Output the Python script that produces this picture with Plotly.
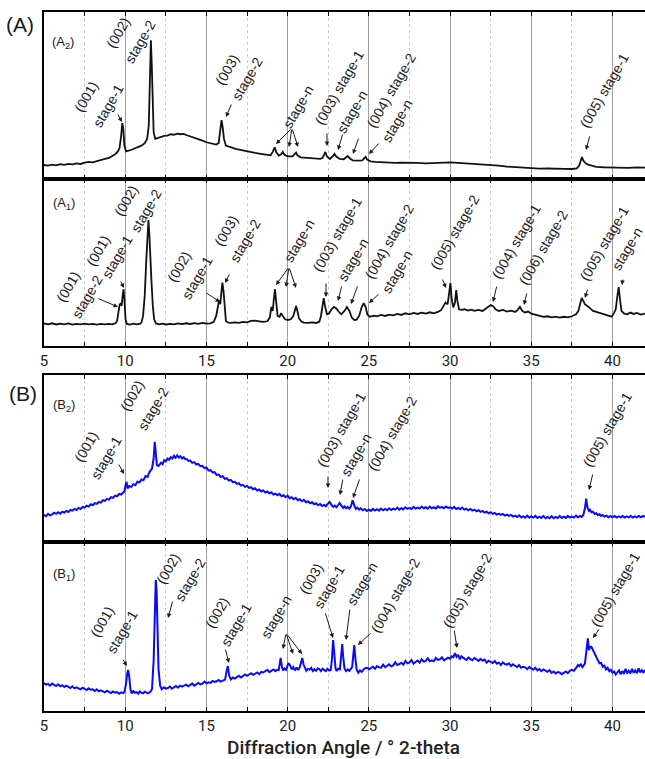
import plotly.graph_objects as go

# ---------------- data (2-theta in degrees, intensity in panel units 0-100) ----------------
A2_pts = [
(5.0,8.4),(5.25,8.0),(5.5,8.6),(5.75,8.2),(6.0,8.9),(6.25,8.5),(6.5,9.1),(6.75,8.8),(7.0,9.4),(7.25,9.0),
(7.5,9.8),(7.75,10.2),(8.0,10.0),(8.25,10.8),(8.5,11.2),(8.75,12.0),(9.0,12.6),(9.2,13.8),(9.4,15.0),(9.55,16.5),
(9.65,18.5),(9.75,26),(9.82,33.5),(9.88,30),(9.95,20),(10.05,16.5),(10.2,16.8),(10.4,17.5),(10.6,18.4),(10.8,19.0),
(11.0,20.0),(11.2,21.5),(11.35,24),(11.45,32),(11.52,55),(11.58,83),(11.63,70),(11.68,45),(11.75,28),(11.85,24),
(12.0,24.5),(12.2,25.2),(12.4,25.8),(12.6,26.0),(12.8,26.8),(13.0,26.5),(13.2,27.2),(13.4,26.8),(13.6,27.0),(13.8,26.2),
(14.0,25.6),(14.2,25.0),(14.4,24.0),(14.6,23.4),(14.8,22.8),(15.0,22.0),(15.2,21.5),(15.4,21.0),(15.6,20.6),(15.75,21.5),
(15.85,28),(15.93,35.3),(16.0,31),(16.08,24),(16.2,20.0),(16.4,19.2),(16.6,18.8),(16.8,18.0),(17.0,17.6),(17.25,17.0),
(17.5,16.5),(17.75,16.0),(18.0,15.6),(18.25,15.2),(18.5,14.8),(18.75,14.4),(18.95,14.2),(19.1,16.5),(19.2,19.0),(19.3,16.0),
(19.45,14.0),(19.6,14.8),(19.7,16.2),(19.8,14.5),(20.0,13.6),(20.3,13.5),(20.45,15.2),(20.52,15.8),(20.6,14.2),(20.8,13.0),
(21.0,12.8),(21.25,12.6),(21.5,12.4),(21.75,12.2),(22.0,12.0),(22.15,12.5),(22.25,15.0),(22.32,16.2),(22.42,13.5),(22.6,12.0),
(22.8,13.8),(22.88,15.0),(22.98,13.6),(23.2,12.0),(23.45,11.8),(23.6,12.8),(23.7,13.8),(23.82,12.4),(24.0,11.2),(24.3,11.0),
(24.6,11.2),(24.72,12.5),(24.8,13.2),(24.9,11.6),(25.1,10.6),(25.4,10.2),(25.7,10.0),(26.0,9.8),(26.3,9.9),(26.6,9.6),
(27.0,9.8),(27.5,9.5),(28.0,9.6),(28.5,9.4),(29.0,9.6),(29.5,9.8),(30.0,10.0),(30.5,9.6),(31.0,9.3),(31.5,9.0),
(32.0,8.8),(32.5,8.4),(33.0,8.0),(33.5,7.4),(34.0,7.0),(34.5,6.8),(35.0,6.6),(35.5,6.2),(36.0,6.3),(36.5,6.0),
(37.0,6.1),(37.5,6.0),(37.8,6.4),(37.95,8.0),(38.05,12.0),(38.12,13.2),(38.2,11.0),(38.35,9.4),(38.5,8.6),(38.75,7.8),
(39.0,7.2),(39.5,7.0),(40.0,6.8),(40.5,6.9),(41.0,6.7),(41.5,7.0),(42.0,6.8),
]

A1_pts = [
(5.0,13.5),(5.25,13.0),(5.5,13.6),(5.75,12.9),(6.0,13.4),(6.25,13.0),(6.5,13.5),(6.75,12.8),(7.0,13.2),(7.25,12.9),
(7.5,13.4),(7.75,13.0),(8.0,13.3),(8.25,12.8),(8.5,13.2),(8.75,12.9),(9.0,13.3),(9.2,13.0),(9.4,13.6),(9.5,15),
(9.58,20),(9.65,24.5),(9.72,25.7),(9.78,24),(9.84,30),(9.9,34),(9.95,28),(10.02,16),(10.1,13.2),(10.3,12.8),
(10.5,13.4),(10.7,13.0),(10.9,13.2),(11.0,14.0),(11.1,18),(11.2,30),(11.3,52),(11.38,72),(11.43,75.4),(11.48,68),
(11.55,50),(11.62,38),(11.7,24),(11.78,16),(11.9,13.4),(12.1,13.0),(12.3,13.4),(12.5,12.9),(12.75,13.3),(13.0,13.0),
(13.25,13.5),(13.5,13.1),(13.75,13.6),(14.0,13.2),(14.25,13.7),(14.5,13.3),(14.75,13.8),(15.0,13.4),(15.25,13.6),(15.45,14.5),
(15.6,18),(15.72,25),(15.78,27.5),(15.85,25),(15.92,33),(15.98,38),(16.05,33),(16.12,22),(16.2,15),(16.35,14.0),
(16.5,13.8),(16.75,14.2),(17.0,13.9),(17.25,14.5),(17.5,14.2),(17.75,15.0),(18.0,15.2),(18.25,14.8),(18.5,14.4),(18.75,14.8),
(18.9,17),(19.0,23.4),(19.08,21),(19.15,28),(19.22,34),(19.3,26),(19.38,18),(19.5,17.5),(19.6,19.7),(19.7,18),
(19.85,16),(20.0,15.6),(20.2,16.0),(20.35,18),(20.45,22),(20.52,24),(20.6,21),(20.7,16.5),(20.85,14.6),(21.0,14.0),
(21.25,13.8),(21.5,14.2),(21.75,13.8),(21.95,14.5),(22.05,18),(22.15,26),(22.22,28.7),(22.3,24),(22.42,19),(22.55,19.5),
(22.7,22),(22.85,23.4),(23.0,22.5),(23.15,20.5),(23.3,19),(23.5,21),(23.65,23.4),(23.8,21),(23.95,17),(24.1,15.6),
(24.25,15.8),(24.4,18),(24.55,23),(24.68,25.7),(24.8,23.5),(24.9,19),(25.05,17.5),(25.3,18.2),(25.5,17.8),(25.75,18.6),
(26.0,18.0),(26.25,18.8),(26.5,18.3),(26.75,19.2),(27.0,18.6),(27.25,19.6),(27.5,19.0),(27.75,19.8),(28.0,19.2),(28.25,20.0),
(28.5,19.4),(28.75,20.2),(29.0,19.6),(29.25,20.4),(29.45,21.5),(29.6,24),(29.72,26),(29.85,25),(29.95,32),(30.02,37.7),
(30.1,28),(30.2,23),(30.3,26),(30.38,33.5),(30.45,27),(30.55,22),(30.7,21.6),(30.9,22.0),(31.1,21.2),(31.3,21.8),
(31.5,21.0),(31.75,21.6),(32.0,21.0),(32.2,22.2),(32.35,23.5),(32.5,24.5),(32.65,23.8),(32.8,22.0),(33.0,21.0),(33.25,21.6),
(33.5,20.6),(33.75,21.2),(34.0,20.4),(34.15,21.5),(34.3,23.4),(34.45,21),(34.6,20.0),(34.8,20.6),(35.0,19.4),(35.25,18.6),
(35.5,18.0),(35.75,17.4),(36.0,17.8),(36.25,17.2),(36.5,17.6),(36.75,17.0),(37.0,17.5),(37.25,17.2),(37.5,17.8),(37.75,19.0),
(37.9,21),(38.0,26),(38.1,28.7),(38.2,27),(38.3,25),(38.45,24),(38.6,22.5),(38.8,21),(39.0,20.4),(39.25,19.6),
(39.5,18.8),(39.75,18.0),(39.95,17.6),(40.1,20),(40.2,22),(40.3,30),(40.38,35.3),(40.46,28),(40.55,21),(40.7,19.5),
(40.9,19.0),(41.1,20.0),(41.3,19.2),(41.5,19.8),(41.75,18.8),(42.0,19.4),
]

B2_pts = [
(5.0,16.2),(5.125,15.4),(5.25,16.8),(5.375,16.0),(5.5,16.6),(5.625,17.6),(5.75,16.9),(5.875,17.8),(6.0,17.0),(6.125,18.2),
(6.25,17.6),(6.375,18.6),(6.5,18.0),(6.625,19.2),(6.75,18.8),(6.875,19.8),(7.0,19.2),(7.125,20.4),(7.25,19.8),(7.375,21.0),
(7.5,20.6),(7.625,21.8),(7.75,21.2),(7.875,22.6),(8.0,22.0),(8.125,23.2),(8.25,22.8),(8.375,24.0),(8.5,23.6),(8.625,25.0),
(8.75,24.6),(8.875,25.8),(9.0,25.4),(9.125,26.8),(9.25,26.4),(9.375,27.8),(9.5,27.4),(9.625,28.8),(9.75,28.4),(9.875,29.8),
(9.95,30.2),(10.02,34),(10.08,36),(10.15,32),(10.25,33.5),(10.375,33.0),(10.5,34.6),(10.625,34.0),(10.75,36.2),(10.875,35.6),
(11.0,37.5),(11.125,37.0),(11.25,39.5),(11.375,39.0),(11.5,42.0),(11.65,44),(11.75,50),(11.82,60),(11.88,54),(11.95,46),
(12.05,45.5),(12.125,46.8),(12.2,47.5),(12.3,46.6),(12.4,49.0),(12.5,48.2),(12.6,50.0),(12.7,49.2),(12.8,50.8),(12.9,50.0),
(13.0,51.6),(13.1,50.4),(13.2,51.8),(13.3,50.6),(13.4,51.4),(13.5,50.0),(13.6,50.8),(13.7,49.6),(13.8,49.6),(13.9,48.6),
(14.0,48.8),(14.125,47.4),(14.25,47.8),(14.375,46.4),(14.5,46.8),(14.625,45.4),(14.75,45.6),(14.875,44.2),(15.0,44.6),(15.125,42.8),
(15.25,43.0),(15.375,41.6),(15.5,41.8),(15.625,40.2),(15.75,40.4),(15.875,39.0),(16.0,39.4),(16.125,37.8),(16.25,38.2),(16.375,36.8),
(16.5,37.2),(16.625,35.8),(16.75,36.0),(16.875,34.8),(17.0,35.2),(17.125,33.8),(17.25,34.2),(17.375,33.0),(17.5,33.6),(17.625,32.4),
(17.75,32.8),(17.875,31.6),(18.0,32.2),(18.125,30.8),(18.25,31.4),(18.375,30.2),(18.5,31.0),(18.625,29.6),(18.75,30.2),(18.875,29.0),
(19.0,29.8),(19.125,28.4),(19.25,29.0),(19.375,28.0),(19.5,28.8),(19.625,27.4),(19.75,28.0),(19.875,26.8),(20.0,27.8),(20.125,26.2),
(20.25,26.8),(20.375,25.6),(20.5,26.4),(20.625,25.0),(20.75,25.6),(20.875,24.4),(21.0,25.2),(21.125,23.8),(21.25,24.4),(21.375,23.2),
(21.5,23.8),(21.625,22.6),(21.75,23.2),(21.875,22.0),(22.0,22.8),(22.125,21.6),(22.25,22.2),(22.35,21.4),(22.45,22.4),(22.58,24.0),
(22.7,22.2),(22.8,21.0),(22.9,21.8),(23.0,20.8),(23.1,22.0),(23.2,23.4),(23.32,21.6),(23.42,20.4),(23.5,21.4),(23.6,20.2),
(23.7,21.0),(23.8,20.0),(23.9,21.4),(24.0,25.0),(24.1,22.0),(24.2,19.8),(24.3,20.6),(24.4,19.4),(24.5,20.2),(24.625,19.0),
(24.75,19.8),(24.875,18.6),(25.0,19.4),(25.125,18.6),(25.25,19.8),(25.375,18.8),(25.5,19.6),(25.625,18.8),(25.75,20.0),(25.875,19.0),
(26.0,19.8),(26.125,19.0),(26.25,20.2),(26.375,19.2),(26.5,20.0),(26.625,19.4),(26.75,20.6),(26.875,19.4),(27.0,20.2),(27.125,19.6),
(27.25,20.8),(27.375,19.8),(27.5,20.4),(27.625,19.8),(27.75,21.0),(27.875,20.0),(28.0,20.6),(28.125,20.0),(28.25,21.2),(28.375,20.2),
(28.5,20.8),(28.625,20.0),(28.75,21.2),(28.875,20.2),(29.0,20.8),(29.125,20.0),(29.25,21.4),(29.375,20.4),(29.5,21.0),(29.625,20.2),
(29.75,21.2),(29.875,20.4),(30.0,20.8),(30.125,20.0),(30.25,21.0),(30.375,19.8),(30.5,20.4),(30.625,19.6),(30.75,20.6),(30.875,19.4),
(31.0,20.0),(31.125,19.0),(31.25,19.8),(31.375,18.8),(31.5,19.4),(31.625,18.4),(31.75,19.0),(31.875,18.0),(32.0,18.6),(32.125,17.6),
(32.25,18.2),(32.375,17.2),(32.5,17.8),(32.625,16.8),(32.75,17.4),(32.875,16.4),(33.0,17.0),(33.125,16.2),(33.25,16.8),(33.375,15.8),
(33.5,16.4),(33.625,15.6),(33.75,16.2),(33.875,15.2),(34.0,15.8),(34.125,15.0),(34.25,16.0),(34.375,14.8),(34.5,15.4),(34.625,14.6),
(34.75,15.8),(34.875,14.6),(35.0,15.4),(35.125,14.6),(35.25,15.6),(35.375,14.4),(35.5,15.2),(35.625,14.4),(35.75,15.6),(35.875,14.2),
(36.0,15.0),(36.125,14.2),(36.25,15.4),(36.375,14.2),(36.5,15.0),(36.625,14.4),(36.75,15.6),(36.875,14.4),(37.0,15.2),(37.125,14.4),
(37.25,15.6),(37.375,14.6),(37.5,15.2),(37.625,14.6),(37.75,15.8),(37.875,14.8),(38.0,15.6),(38.1,15.0),(38.2,16.0),(38.3,20),
(38.38,26),(38.45,21),(38.55,18.6),(38.62,19.2),(38.7,17.8),(38.8,18.2),(38.9,16.8),(39.0,17.2),(39.1,16.2),(39.2,16.6),
(39.3,15.6),(39.4,16.2),(39.5,15.2),(39.625,15.8),(39.75,14.8),(39.875,15.6),(40.0,14.8),(40.125,15.6),(40.25,14.6),(40.375,15.4),
(40.5,14.8),(40.625,15.6),(40.75,14.6),(40.875,15.4),(41.0,14.8),(41.125,15.6),(41.25,14.6),(41.375,15.4),(41.5,14.8),(41.625,15.6),
(41.75,14.8),(41.875,15.6),(42.0,15.0),
]

B1_pts = [
(5.0,16.6),(5.125,15.6),(5.25,16.0),(5.375,15.0),(5.5,16.2),(5.625,15.4),(5.75,14.8),(5.875,15.8),(6.0,14.6),(6.125,15.2),
(6.25,14.2),(6.375,15.0),(6.5,14.4),(6.625,13.6),(6.75,14.6),(6.875,13.4),(7.0,14.0),(7.125,13.6),(7.25,12.8),(7.375,13.8),
(7.5,13.0),(7.625,12.4),(7.75,13.4),(7.875,12.6),(8.0,12.8),(8.125,11.8),(8.25,12.8),(8.375,11.6),(8.5,12.2),(8.625,11.8),
(8.75,11.0),(8.875,12.0),(9.0,11.4),(9.125,10.6),(9.25,11.6),(9.375,10.8),(9.5,11.2),(9.625,10.2),(9.75,11.0),(9.875,10.6),
(9.95,11.2),(10.05,16),(10.12,22),(10.18,24.3),(10.25,20),(10.32,13),(10.4,10.4),(10.5,11.8),(10.6,10.8),(10.7,11.2),
(10.8,10.2),(10.9,11.6),(11.0,10.8),(11.1,10.4),(11.2,11.4),(11.3,11.0),(11.4,10.4),(11.55,11.4),(11.65,13),(11.75,30),
(11.82,60),(11.88,77.5),(11.93,72),(11.98,50),(12.05,25),(12.15,15),(12.25,12.8),(12.375,14.0),(12.5,13.2),(12.625,13.6),
(12.75,14.4),(12.875,13.2),(13.0,14.2),(13.125,14.8),(13.25,13.8),(13.375,15.0),(13.5,14.4),(13.625,14.8),(13.75,15.6),(13.875,14.6),
(14.0,15.2),(14.125,16.2),(14.25,15.0),(14.375,15.8),(14.5,16.6),(14.625,15.8),(14.75,16.2),(14.875,17.4),(15.0,16.4),(15.125,17.0),
(15.25,16.6),(15.375,17.8),(15.5,17.2),(15.625,17.6),(15.75,18.4),(15.875,17.4),(16.0,18.0),(16.15,18.6),(16.25,24),(16.32,26.6),
(16.4,21),(16.5,18.6),(16.625,19.8),(16.75,19.2),(16.875,20.0),(17.0,20.8),(17.125,19.8),(17.25,20.6),(17.375,21.6),(17.5,20.8),
(17.625,21.4),(17.75,22.4),(17.875,21.4),(18.0,22.2),(18.125,22.8),(18.25,21.8),(18.375,23.2),(18.5,22.8),(18.625,23.6),(18.75,24.4),
(18.875,23.0),(19.0,23.8),(19.125,24.6),(19.25,23.6),(19.35,24.4),(19.45,24.2),(19.52,29),(19.57,31.4),(19.65,26),(19.72,24.0),
(19.8,25.2),(19.9,24.4),(19.98,26.5),(20.05,28.4),(20.15,27),(20.25,24.6),(20.35,26.0),(20.45,24.0),(20.55,25.8),(20.65,24.2),
(20.75,26.0),(20.82,28),(20.9,31.4),(20.98,27.5),(21.05,25.4),(21.15,23.8),(21.25,25.0),(21.35,24.4),(21.45,25.6),(21.55,23.6),
(21.65,24.6),(21.75,23.8),(21.85,25.2),(21.95,24.8),(22.05,23.6),(22.15,25.0),(22.25,24.2),(22.35,23.6),(22.45,25.0),(22.55,24.0),
(22.65,24.2),(22.72,30),(22.8,42),(22.86,35),(22.95,25),(23.02,23.6),(23.1,25.0),(23.22,24.6),(23.3,36),(23.36,39.6),
(23.42,32),(23.5,25.2),(23.6,23.6),(23.7,24.6),(23.8,23.8),(23.9,24.8),(23.97,26),(24.03,32),(24.1,39),(24.17,31),
(24.25,24.4),(24.35,22.6),(24.45,24.0),(24.55,23.2),(24.65,24.4),(24.75,25.2),(24.875,25.6),(25.0,24.8),(25.125,25.4),(25.25,26.2),
(25.375,25.0),(25.5,26.6),(25.625,25.8),(25.75,25.6),(25.875,27.4),(26.0,26.0),(26.125,26.8),(26.25,27.6),(26.375,26.4),(26.5,27.0),
(26.625,28.8),(26.75,27.2),(26.875,27.8),(27.0,28.6),(27.125,27.4),(27.25,29.6),(27.375,28.2),(27.5,28.8),(27.625,30.2),(27.75,28.0),
(27.875,29.0),(28.0,29.8),(28.125,28.6),(28.25,30.6),(28.375,29.2),(28.5,29.6),(28.625,31.2),(28.75,29.4),(28.875,30.0),(29.0,29.4),
(29.125,31.4),(29.25,30.2),(29.375,30.6),(29.5,31.8),(29.625,30.0),(29.75,30.8),(29.875,31.6),(30.0,31.0),(30.1,32.4),(30.2,31.8),
(30.3,34.3),(30.4,32.0),(30.5,33.2),(30.6,30.6),(30.7,32.4),(30.8,31.6),(30.9,30.8),(31.0,30.2),(31.125,31.6),(31.25,31.0),
(31.375,30.0),(31.5,31.4),(31.625,30.6),(31.75,29.6),(31.875,30.8),(32.0,29.8),(32.125,30.4),(32.25,28.6),(32.375,29.8),(32.5,29.0),
(32.625,28.4),(32.75,29.6),(32.875,28.0),(33.0,28.6),(33.125,27.2),(33.25,28.8),(33.375,27.8),(33.5,27.4),(33.625,28.2),(33.75,26.6),
(33.875,27.6),(34.0,26.8),(34.125,26.0),(34.25,27.2),(34.375,25.6),(34.5,26.2),(34.625,25.8),(34.75,24.8),(34.875,26.0),(35.0,25.2),
(35.125,24.4),(35.25,25.6),(35.375,24.0),(35.5,24.8),(35.625,23.6),(35.75,24.6),(35.875,23.8),(36.0,23.2),(36.125,24.2),(36.25,22.6),
(36.375,23.4),(36.5,22.2),(36.625,23.0),(36.75,22.8),(36.875,21.8),(37.0,22.6),(37.125,23.4),(37.25,22.4),(37.375,23.8),(37.5,24.4),
(37.625,23.8),(37.75,25.4),(37.875,27.2),(37.95,26.6),(38.05,27.6),(38.15,26.0),(38.3,28),(38.4,36),(38.48,43),(38.55,36),
(38.62,38),(38.7,38),(38.8,36),(38.9,34),(39.0,31),(39.1,30.0),(39.2,28.2),(39.3,28.4),(39.4,26.2),(39.5,26.8),
(39.6,24.6),(39.7,25.6),(39.8,23.6),(39.9,24.4),(40.0,22.6),(40.1,23.4),(40.2,21.6),(40.3,23.0),(40.4,24.0),(40.5,21.8),
(40.6,23.6),(40.7,22.0),(40.8,25.0),(40.9,22.6),(41.0,23.8),(41.1,22.2),(41.2,25.0),(41.3,22.6),(41.4,24.0),(41.5,22.4),
(41.6,25.2),(41.7,22.8),(41.8,24.2),(41.9,22.6),(42.0,24.4),
]

x_ticks = [5, 10, 15, 20, 25, 30, 35, 40]
x_minor = [7.5, 12.5, 17.5, 22.5, 27.5, 32.5, 37.5]
x_title = "Diffraction Angle / ° 2-theta"

# ---------------- annotations: (center_px_x, center_px_y, text) ----------------
labels = [
    # A2
    (86, 97, "(001)"), (108, 106, "stage-1"), (118, 33, "(002)"), (140, 42, "stage-2"),
    (227, 70, "(003)"), (247, 79, "stage-2"), (298, 107, "stage-n"), (339, 88, "(003) stage-1"),
    (352, 112, "stage-n"), (391, 91, "(004) stage-2"), (397, 121, "stage-n"), (604, 91, "(005) stage-1"),
    # A1
    (68, 287, "(001)"), (87, 297, "stage-2"), (98, 251, "(001)"), (117, 257, "stage-1"),
    (126, 201, "(002)"), (146, 211, "stage-2"), (179, 267, "(002)"), (197, 278, "stage-1"),
    (226, 231, "(003)"), (245, 241, "stage-2"), (299, 241, "stage-n"), (337, 235, "(003) stage-1"),
    (353, 260, "stage-n"), (389, 242, "(004) stage-2"), (397, 272, "stage-n"), (455, 232, "(005) stage-2"),
    (516, 242, "(004) stage-1"), (543, 248, "(006) stage-2"), (604, 244, "(005) stage-1"), (627, 249, "stage-n"),
    # B2
    (86, 447, "(001)"), (106, 458, "stage-1"), (132, 396, "(002)"), (153, 409, "stage-2"),
    (341, 430, "(003) stage-1"), (356, 455, "stage-n"), (392, 434, "(004) stage-2"), (607, 430, "(005) stage-1"),
    # B1
    (102, 622, "(001)"), (122, 632, "stage-1"), (168, 569, "(002)"), (190, 580, "stage-2"),
    (217, 613, "(002)"), (236, 625, "stage-1"), (276, 617, "stage-n"), (311, 579, "(003)"),
    (329, 587, "stage-1"), (362, 584, "stage-n"), (395, 596, "(004) stage-2"), (467, 591, "(005) stage-2"),
    (615, 590, "(005) stage-1"),
]

# arrows: (tail_x, tail_y, head_x, head_y) in px
arrows = [
    (117, 113, 122, 122), (232, 103, 226, 117), (292, 128, 276, 144), (292, 128, 289, 147), (292, 128, 298, 147),
    (327, 132, 327, 146), (343, 133, 338, 150), (359, 137, 353, 154), (380, 142, 369, 154), (590, 135, 586, 150),
    (97, 298, 118, 307), (120, 280, 124, 288), (205, 292, 220, 302), (230, 273, 225, 283),
    (289, 267, 276, 285), (289, 267, 286, 287), (289, 267, 296, 288),
    (326, 282, 326, 297), (342, 285, 338, 301), (358, 285, 351, 304), (380, 293, 369, 303),
    (442, 278, 446, 288), (497, 285, 493, 302), (527, 292, 524, 305), (588, 288, 585, 298), (623, 278, 622, 285),
    (118, 463, 124, 474), (328, 475, 328, 488), (343, 478, 340, 495), (360, 478, 353, 498), (593, 473, 589, 490),
    (122, 658, 127, 666), (173, 600, 168, 618), (225, 648, 229, 663),
    (286, 633, 283, 649), (286, 633, 293, 654), (286, 633, 302, 654),
    (325, 612, 333, 638), (350, 608, 346, 640), (372, 632, 358, 645), (454, 629, 457, 648), (600, 628, 593, 638),
]

panel_tags = [(20, 25, "(A)", 21), (23, 393, "(B)", 21),
              (63, 42, "(A<sub>2</sub>)", 13), (64, 203, "(A<sub>1</sub>)", 13),
              (64, 405, "(B<sub>2</sub>)", 13), (64, 574, "(B<sub>1</sub>)", 13)]

# ---------------- layout geometry ----------------
W, H = 645, 759
L = 44
PW = W - L
panel_px = [(12, 179), (179, 346), (375, 542), (542, 711)]  # A2, A1, B2, B1
series = [A2_pts, A1_pts, B2_pts, B1_pts]
colors = ["#111111", "#111111", "#0a0af5", "#0a0af5"]
widths = [1.8, 1.8, 2.0, 2.0]
show_lbl = [False, True, False, True]

def px2paper(px, py):
    return (px - L) / PW, (H - py) / H

fig = go.Figure()
layout = dict(width=W, height=H, margin=dict(l=L, r=0, t=0, b=0),
              paper_bgcolor="white", plot_bgcolor="white", showlegend=False)

for i, (pts, col) in enumerate(zip(series, colors)):
    n = "" if i == 0 else str(i + 1)
    fig.add_trace(go.Scatter(x=[p[0] for p in pts], y=[p[1] for p in pts], mode="lines",
                             line=dict(color=col, width=widths[i]), xaxis="x" + n, yaxis="y" + n,
                             hoverinfo="skip"))
    top, bot = panel_px[i]
    layout["xaxis" + n] = dict(
        range=[5, 42], domain=[0, 1], anchor="y" + n, tickmode="array", tickvals=x_ticks,
        showticklabels=show_lbl[i], ticks="inside", ticklen=4, tickwidth=1, tickcolor="black",
        showline=True, linecolor="black", linewidth=1.5, mirror="ticks",
        showgrid=True, gridcolor="#a0a0a0", gridwidth=1, zeroline=False,
        minor=dict(tickmode="array", tickvals=x_minor, showgrid=True,
                   gridcolor="#cdcdcd", griddash="3px,3px", gridwidth=1,
                   ticks="inside", ticklen=4, tickwidth=1, tickcolor="black"),
        tickfont=dict(family="Roboto", size=15, color="#222"),
    )
    layout["yaxis" + n] = dict(
        range=[0, 100], domain=[(H - bot) / H, (H - top) / H], anchor="x" + n,
        showticklabels=False, ticks="", showgrid=False, zeroline=False,
        showline=True, linecolor="black", linewidth=1.5, mirror=False,
    )

ann = []
for (cx, cy, t) in labels:
    x, y = px2paper(cx, cy)
    ann.append(dict(x=x, y=y, xref="paper", yref="paper", text=t, showarrow=False,
                    textangle=-60, xanchor="center", yanchor="middle",
                    font=dict(family="Liberation Sans, Arial", size=14, color="#1a1a1a")))
for (tx, ty, hx, hy) in arrows:
    x, y = px2paper(hx, hy)
    ann.append(dict(x=x, y=y, xref="paper", yref="paper", text="", showarrow=True,
                    ax=tx - hx, ay=ty - hy, arrowhead=2, arrowsize=0.9, arrowwidth=1,
                    arrowcolor="#1a1a1a", standoff=0, startstandoff=0))
for (cx, cy, t, s) in panel_tags:
    x, y = px2paper(cx, cy)
    ann.append(dict(x=x, y=y, xref="paper", yref="paper", text=t, showarrow=False,
                    xanchor="center", yanchor="middle",
                    font=dict(family="Liberation Sans, Arial", size=s, color="#1a1a1a")))
tx, ty = px2paper(343, 747)
ann.append(dict(x=tx, y=ty, xref="paper", yref="paper", text=x_title, showarrow=False,
                xanchor="center", yanchor="middle",
                font=dict(family="Roboto", size=19, color="#222", weight=500)))
layout["annotations"] = ann
fig.update_layout(**layout)
fig.write_html("out.html")
